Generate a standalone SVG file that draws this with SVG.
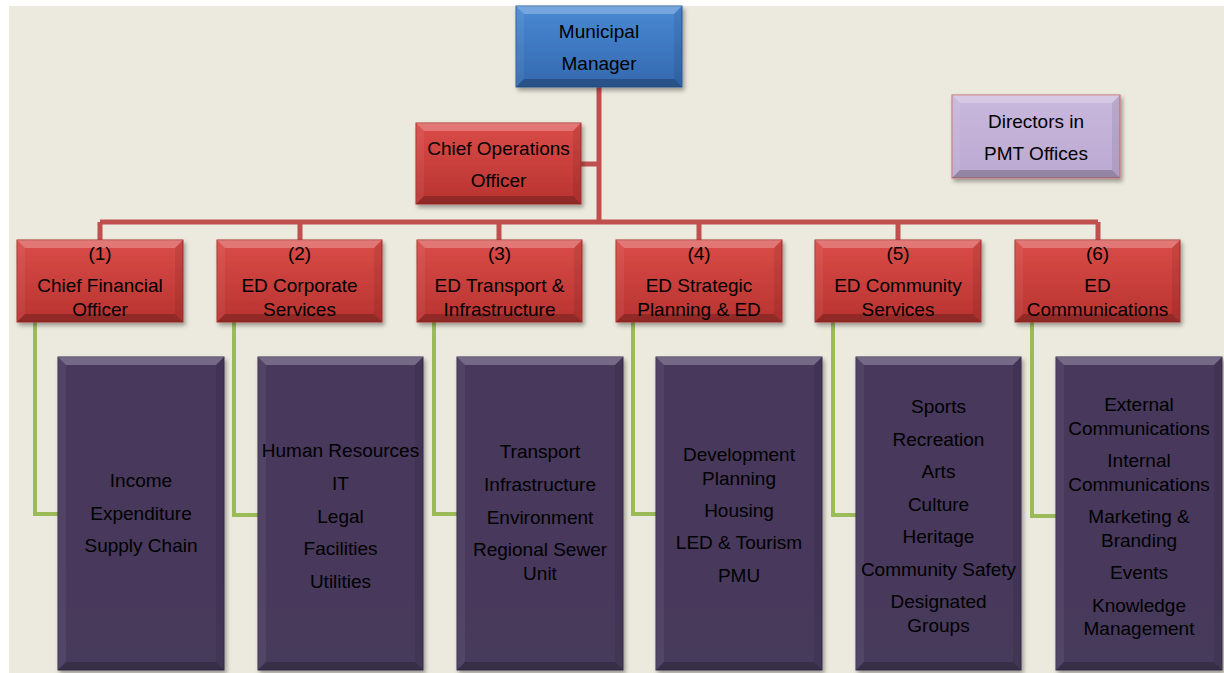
<svg xmlns="http://www.w3.org/2000/svg" width="1224" height="673" viewBox="0 0 1224 673">
<defs>
<linearGradient id="gBlue" x1="0" y1="0" x2="0" y2="1"><stop offset="0" stop-color="#4A89D4"/><stop offset="1" stop-color="#3368AE"/></linearGradient>
<linearGradient id="gRed" x1="0" y1="0" x2="0" y2="1"><stop offset="0" stop-color="#DA4C48"/><stop offset="1" stop-color="#B83330"/></linearGradient>
<linearGradient id="gLav" x1="0" y1="0" x2="0" y2="1"><stop offset="0" stop-color="#C9B8DC"/><stop offset="1" stop-color="#BCA9D2"/></linearGradient>
<linearGradient id="gPur" x1="0" y1="0" x2="0" y2="1"><stop offset="0" stop-color="#46375C"/><stop offset="1" stop-color="#463A5C"/></linearGradient>
<filter id="sh" x="-10%" y="-10%" width="125%" height="125%"><feDropShadow dx="2" dy="3" stdDeviation="2" flood-color="#000" flood-opacity="0.35"/></filter>
<style>
.t{font-family:"Liberation Sans",Arial,sans-serif;font-size:19px;fill:#000;text-anchor:middle}
.bt{fill:#fff;fill-opacity:.25}
.bl{fill:#fff;fill-opacity:.06}
.br{fill:#000;fill-opacity:.08}
.bb{fill:#000;fill-opacity:.22}
.red{fill:url(#gRed);stroke:#A8302D;stroke-width:1}
.blue{fill:url(#gBlue);stroke:#2C5C9C;stroke-width:1}
.lav{fill:url(#gLav);stroke:#C77C80;stroke-width:1.2}
.pur{fill:url(#gPur);stroke:#3A2E4C;stroke-width:1}
.rc{fill:none;stroke:#C0504D;stroke-width:5}
.gc{fill:none;stroke:#9BBB59;stroke-width:4}
</style>
</defs>
<rect x="0" y="0" width="1224" height="673" fill="#fff"/>
<rect x="9" y="6" width="1215" height="667" fill="#ECE9DE"/>

<g id="connectors">
<path class="rc" d="M599,87 V222 M100,222 H1098 M100,222 V240 M300,222 V240 M499,222 V240 M699,222 V240 M898,222 V240 M1098,222 V240 M581,164 H599"/>
<path class="gc" d="M35,322 V514 H58 M234,322 V515 H258 M434,322 V514 H457 M633,322 V514 H656 M833,322 V515 H856 M1032,322 V516 H1056"/>
</g>

<g id="mm" transform="translate(516,6)">
<rect class="blue" width="166" height="81" filter="url(#sh)"/>
<polygon class="bt" points="0,0 166,0 158,8 8,8"/><polygon class="bl" points="0,0 8,8 8,73 0,81"/><polygon class="br" points="166,0 158,8 158,73 166,81"/><polygon class="bb" points="0,81 8,73 158,73 166,81"/>
<text class="t" x="83" y="31.5">Municipal</text><text class="t" x="83" y="63.5">Manager</text>
</g>

<g id="coo" transform="translate(416,123)">
<rect class="red" width="165" height="81" filter="url(#sh)"/>
<polygon class="bt" points="0,0 165,0 157,8 8,8"/><polygon class="bl" points="0,0 8,8 8,73 0,81"/><polygon class="br" points="165,0 157,8 157,73 165,81"/><polygon class="bb" points="0,81 8,73 157,73 165,81"/>
<text class="t" x="82.5" y="31.5">Chief Operations</text><text class="t" x="82.5" y="63.5">Officer</text>
</g>

<g id="pmt" transform="translate(952,95)">
<rect class="lav" width="168" height="83" filter="url(#sh)"/>
<polygon class="bt" points="0,0 168,0 160,8 8,8"/><polygon class="bl" points="0,0 8,8 8,75 0,83"/><polygon class="br" points="168,0 160,8 160,75 168,83"/><polygon class="bb" points="0,83 8,75 160,75 168,83"/>
<text class="t" x="84" y="32.5">Directors in</text><text class="t" x="84" y="64.5">PMT Offices</text>
</g>

<g id="ed1" transform="translate(17,240)">
<rect class="red" width="166" height="82" filter="url(#sh)"/>
<polygon class="bt" points="0,0 166,0 158,8 8,8"/><polygon class="bl" points="0,0 8,8 8,74 0,82"/><polygon class="br" points="166,0 158,8 158,74 166,82"/><polygon class="bb" points="0,82 8,74 158,74 166,82"/>
<text class="t" x="83" y="19.5">(1)</text><text class="t" x="83" y="51.5">Chief Financial</text><text class="t" x="83" y="75.5">Officer</text>
</g>
<g id="ed2" transform="translate(217,240)">
<rect class="red" width="165" height="82" filter="url(#sh)"/>
<polygon class="bt" points="0,0 165,0 157,8 8,8"/><polygon class="bl" points="0,0 8,8 8,74 0,82"/><polygon class="br" points="165,0 157,8 157,74 165,82"/><polygon class="bb" points="0,82 8,74 157,74 165,82"/>
<text class="t" x="82.5" y="19.5">(2)</text><text class="t" x="82.5" y="51.5">ED Corporate</text><text class="t" x="82.5" y="75.5">Services</text>
</g>
<g id="ed3" transform="translate(417,240)">
<rect class="red" width="165" height="82" filter="url(#sh)"/>
<polygon class="bt" points="0,0 165,0 157,8 8,8"/><polygon class="bl" points="0,0 8,8 8,74 0,82"/><polygon class="br" points="165,0 157,8 157,74 165,82"/><polygon class="bb" points="0,82 8,74 157,74 165,82"/>
<text class="t" x="82.5" y="19.5">(3)</text><text class="t" x="82.5" y="51.5">ED Transport &amp;</text><text class="t" x="82.5" y="75.5">Infrastructure</text>
</g>
<g id="ed4" transform="translate(616,240)">
<rect class="red" width="166" height="82" filter="url(#sh)"/>
<polygon class="bt" points="0,0 166,0 158,8 8,8"/><polygon class="bl" points="0,0 8,8 8,74 0,82"/><polygon class="br" points="166,0 158,8 158,74 166,82"/><polygon class="bb" points="0,82 8,74 158,74 166,82"/>
<text class="t" x="83" y="19.5">(4)</text><text class="t" x="83" y="51.5">ED Strategic</text><text class="t" x="83" y="75.5">Planning &amp; ED</text>
</g>
<g id="ed5" transform="translate(815,240)">
<rect class="red" width="166" height="82" filter="url(#sh)"/>
<polygon class="bt" points="0,0 166,0 158,8 8,8"/><polygon class="bl" points="0,0 8,8 8,74 0,82"/><polygon class="br" points="166,0 158,8 158,74 166,82"/><polygon class="bb" points="0,82 8,74 158,74 166,82"/>
<text class="t" x="83" y="19.5">(5)</text><text class="t" x="83" y="51.5">ED Community</text><text class="t" x="83" y="75.5">Services</text>
</g>
<g id="ed6" transform="translate(1015,240)">
<rect class="red" width="165" height="82" filter="url(#sh)"/>
<polygon class="bt" points="0,0 165,0 157,8 8,8"/><polygon class="bl" points="0,0 8,8 8,74 0,82"/><polygon class="br" points="165,0 157,8 157,74 165,82"/><polygon class="bb" points="0,82 8,74 157,74 165,82"/>
<text class="t" x="82.5" y="19.5">(6)</text><text class="t" x="82.5" y="51.5">ED</text><text class="t" x="82.5" y="75.5">Communications</text>
</g>

<g id="u1" transform="translate(58,357)">
<rect class="pur" width="166" height="313" filter="url(#sh)"/>
<polygon class="bt" points="0,0 166,0 158,8 8,8"/><polygon class="bl" points="0,0 8,8 8,305 0,313"/><polygon class="br" points="166,0 158,8 158,305 166,313"/><polygon class="bb" points="0,313 8,305 158,305 166,313"/>
<text class="t" x="83" y="129.5">Income</text><text class="t" x="83" y="162.5">Expenditure</text><text class="t" x="83" y="194.5">Supply Chain</text>
</g>
<g id="u2" transform="translate(258,357)">
<rect class="pur" width="165" height="313" filter="url(#sh)"/>
<polygon class="bt" points="0,0 165,0 157,8 8,8"/><polygon class="bl" points="0,0 8,8 8,305 0,313"/><polygon class="br" points="165,0 157,8 157,305 165,313"/><polygon class="bb" points="0,313 8,305 157,305 165,313"/>
<text class="t" x="82.5" y="99.5">Human Resources</text><text class="t" x="82.5" y="132.5">IT</text><text class="t" x="82.5" y="165.5">Legal</text><text class="t" x="82.5" y="197.5">Facilities</text><text class="t" x="82.5" y="230.5">Utilities</text>
</g>
<g id="u3" transform="translate(457,357)">
<rect class="pur" width="166" height="313" filter="url(#sh)"/>
<polygon class="bt" points="0,0 166,0 158,8 8,8"/><polygon class="bl" points="0,0 8,8 8,305 0,313"/><polygon class="br" points="166,0 158,8 158,305 166,313"/><polygon class="bb" points="0,313 8,305 158,305 166,313"/>
<text class="t" x="83" y="100.5">Transport</text><text class="t" x="83" y="133.5">Infrastructure</text><text class="t" x="83" y="166.5">Environment</text><text class="t" x="83" y="198.5">Regional Sewer</text><text class="t" x="83" y="222.5">Unit</text>
</g>
<g id="u4" transform="translate(656,357)">
<rect class="pur" width="166" height="313" filter="url(#sh)"/>
<polygon class="bt" points="0,0 166,0 158,8 8,8"/><polygon class="bl" points="0,0 8,8 8,305 0,313"/><polygon class="br" points="166,0 158,8 158,305 166,313"/><polygon class="bb" points="0,313 8,305 158,305 166,313"/>
<text class="t" x="83" y="103.5">Development</text><text class="t" x="83" y="127.5">Planning</text><text class="t" x="83" y="159.5">Housing</text><text class="t" x="83" y="191.5">LED &amp; Tourism</text><text class="t" x="83" y="224.5">PMU</text>
</g>
<g id="u5" transform="translate(856,357)">
<rect class="pur" width="165" height="313" filter="url(#sh)"/>
<polygon class="bt" points="0,0 165,0 157,8 8,8"/><polygon class="bl" points="0,0 8,8 8,305 0,313"/><polygon class="br" points="165,0 157,8 157,305 165,313"/><polygon class="bb" points="0,313 8,305 157,305 165,313"/>
<text class="t" x="82.5" y="55.5">Sports</text><text class="t" x="82.5" y="88.5">Recreation</text><text class="t" x="82.5" y="120.5">Arts</text><text class="t" x="82.5" y="153.5">Culture</text><text class="t" x="82.5" y="185.5">Heritage</text><text class="t" x="82.5" y="218.5">Community Safety</text><text class="t" x="82.5" y="250.5">Designated</text><text class="t" x="82.5" y="274.5">Groups</text>
</g>
<g id="u6" transform="translate(1056,357)">
<rect class="pur" width="166" height="313" filter="url(#sh)"/>
<polygon class="bt" points="0,0 166,0 158,8 8,8"/><polygon class="bl" points="0,0 8,8 8,305 0,313"/><polygon class="br" points="166,0 158,8 158,305 166,313"/><polygon class="bb" points="0,313 8,305 158,305 166,313"/>
<text class="t" x="83" y="53.5">External</text><text class="t" x="83" y="77.5">Communications</text><text class="t" x="83" y="109.5">Internal</text><text class="t" x="83" y="133.5">Communications</text><text class="t" x="83" y="165.5">Marketing &amp;</text><text class="t" x="83" y="189.5">Branding</text><text class="t" x="83" y="221.5">Events</text><text class="t" x="83" y="254.5">Knowledge</text><text class="t" x="83" y="277.5">Management</text>
</g>
</svg>
